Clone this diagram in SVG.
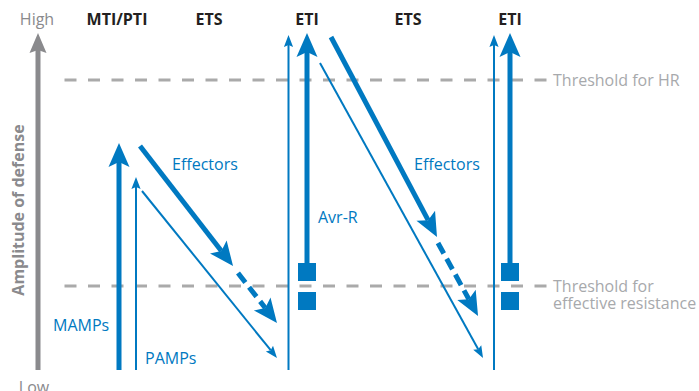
<svg xmlns="http://www.w3.org/2000/svg" width="699" height="391" viewBox="0 0 699 391">
  <style>
    .lbl { font-family: "Open Sans", "Liberation Sans", sans-serif; font-size: 16px; fill: #0079c1; }
    .hdr { font-family: "Open Sans", "Liberation Sans", sans-serif; font-size: 16px; font-weight: bold; fill: #231f20; }
    .axt { font-family: "Open Sans", "Liberation Sans", sans-serif; font-size: 16px; fill: #8a8a8d; }
    .thr { font-family: "Open Sans", "Liberation Sans", sans-serif; font-size: 16px; fill: #a7a9ac; }
    .thick { stroke: #0079c1; stroke-width: 5; fill: none; }
    .thin { stroke: #0079c1; stroke-width: 2; fill: none; }
    .dash { stroke-dasharray: 12 6; }
    .threshold { stroke: #aaaaaa; stroke-width: 3; stroke-dasharray: 12 11.5; fill: none; }
    .box { fill: #0079c1; }
  </style>
  <defs>
    <!-- arrowheads: the reference point is the notch, the tip lies ahead of it -->
    <marker id="headThick" markerUnits="userSpaceOnUse" viewBox="-6 -11 26 22" markerWidth="26" markerHeight="22" refX="0" refY="0" orient="auto">
      <path d="M19,0 L-5,-10.5 L0,0 L-5,10.5 Z" fill="#0079c1"/>
    </marker>
    <marker id="headThin" markerUnits="userSpaceOnUse" viewBox="-3 -5 14 10" markerWidth="14" markerHeight="10" refX="0" refY="0" orient="auto">
      <path d="M10,0 L-2,-4.6 L0,0 L-2,4.6 Z" fill="#0079c1"/>
    </marker>
    <marker id="headAxis" markerUnits="userSpaceOnUse" viewBox="-4 -9 22 18" markerWidth="22" markerHeight="18" refX="0" refY="0" orient="auto">
      <path d="M17,0 L-3,-8.5 L0,0 L-3,8.5 Z" fill="#8a8a8d"/>
    </marker>
  </defs>

  <!-- vertical axis -->
  <g id="axis">
    <line x1="38" y1="370" x2="38" y2="50" stroke="#8a8a8d" stroke-width="5" marker-end="url(#headAxis)"/>
    <text class="axt" x="37" y="25" text-anchor="middle">High</text>
    <text class="axt" x="34" y="393" text-anchor="middle">Low</text>
    <text class="axt" transform="translate(24,210) rotate(-90)" text-anchor="middle" font-weight="bold" font-size="15">Amplitude of defense</text>
  </g>

  <!-- phase headings -->
  <g id="headings">
    <text class="hdr" x="117" y="25" text-anchor="middle">MTI/PTI</text>
    <text class="hdr" x="209" y="25" text-anchor="middle">ETS</text>
    <text class="hdr" x="307" y="25" text-anchor="middle">ETI</text>
    <text class="hdr" x="408" y="25" text-anchor="middle">ETS</text>
    <text class="hdr" x="510" y="25" text-anchor="middle">ETI</text>
  </g>

  <!-- thresholds -->
  <g id="threshold-hr">
    <line class="threshold" x1="64.5" y1="80" x2="546.5" y2="80"/>
    <text class="thr" x="553" y="86">Threshold for HR</text>
  </g>
  <g id="threshold-resistance">
    <line class="threshold" x1="64.5" y1="286" x2="546.5" y2="286"/>
    <text class="thr" x="553" y="292">Threshold for</text>
    <text class="thr" x="553" y="309">effective resistance</text>
  </g>

  <!-- Avr-R boxes -->
  <g id="avr-r-1">
    <rect class="box" x="298" y="263" width="18" height="18"/>
    <rect class="box" x="298" y="292" width="18" height="18"/>
    <text class="lbl" x="318" y="223">Avr-R</text>
  </g>
  <g id="avr-r-2">
    <rect class="box" x="501" y="263" width="18" height="18"/>
    <rect class="box" x="501" y="292" width="18" height="18"/>
  </g>

  <!-- labels -->
  <g id="mamps"><text class="lbl" x="53" y="331">MAMPs</text></g>
  <g id="pamps"><text class="lbl" x="145" y="364">PAMPs</text></g>
  <g id="effectors-1"><text class="lbl" x="172" y="170">Effectors</text></g>
  <g id="effectors-2"><text class="lbl" x="414" y="170">Effectors</text></g>

  <!-- connectors -->
  <g id="connectors">
    <!-- MTI/PTI -->
    <line class="thick" x1="119" y1="370" x2="119" y2="162" marker-end="url(#headThick)"/>
    <line class="thin" x1="136" y1="370" x2="136" y2="187" marker-end="url(#headThin)"/>
    <!-- first ETS -->
    <line class="thick" x1="140" y1="146" x2="221.4" y2="251" marker-end="url(#headThick)"/>
    <line class="thick dash" x1="238" y1="273" x2="265.3" y2="308" marker-end="url(#headThick)"/>
    <line class="thin" x1="142" y1="191" x2="270.7" y2="350.2" marker-end="url(#headThin)"/>
    <!-- first ETI -->
    <line class="thin" x1="288.5" y1="370" x2="288.5" y2="45" marker-end="url(#headThin)"/>
    <line class="thick" x1="307" y1="264" x2="307" y2="52" marker-end="url(#headThick)"/>
    <!-- second ETS -->
    <line class="thick" x1="331" y1="37" x2="428.1" y2="220.2" marker-end="url(#headThick)"/>
    <line class="thick dash" x1="438" y1="243" x2="468.9" y2="299.3" marker-end="url(#headThick)"/>
    <line class="thin" x1="320" y1="63" x2="478.2" y2="349.2" marker-end="url(#headThin)"/>
    <!-- second ETI -->
    <line class="thin" x1="494" y1="370" x2="494" y2="45" marker-end="url(#headThin)"/>
    <line class="thick" x1="510" y1="264" x2="510" y2="52" marker-end="url(#headThick)"/>
  </g>
</svg>
